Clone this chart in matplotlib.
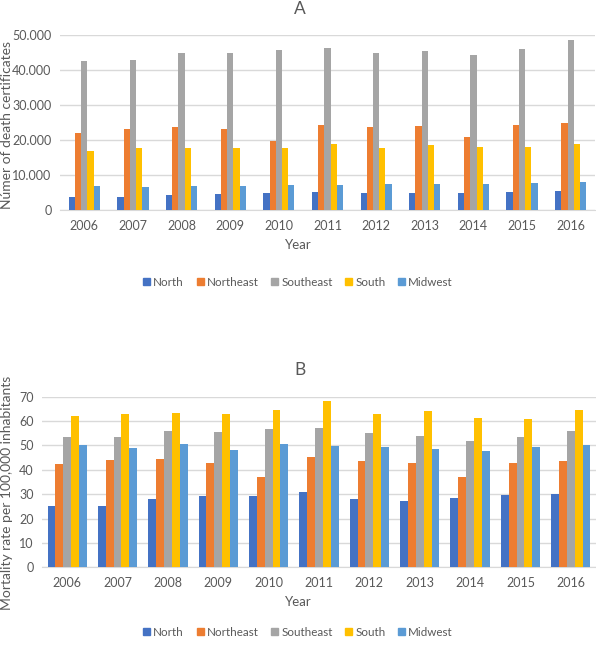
import numpy as np
import matplotlib
matplotlib.use("Agg")
import matplotlib.pyplot as plt
from matplotlib.patches import Patch

years = ["2006", "2007", "2008", "2009", "2010", "2011", "2012", "2013", "2014", "2015", "2016"]
regions = ["North", "Northeast", "Southeast", "South", "Midwest"]
colors = ["#4472C4", "#ED7D31", "#A5A5A5", "#FFC000", "#5B9BD5"]

# Panel A: number of death certificates
a_north = [3800, 3800, 4300, 4600, 4900, 5100, 4800, 4800, 5000, 5200, 5500]
a_northeast = [21900, 23100, 23800, 23100, 19800, 24300, 23700, 24100, 20900, 24200, 25000]
a_southeast = [42700, 43000, 44900, 45000, 45600, 46300, 44900, 45400, 44300, 45900, 48500]
a_south = [17000, 17600, 17600, 17600, 17700, 18900, 17700, 18600, 18000, 18000, 19000]
a_midwest = [6800, 6700, 7000, 6800, 7200, 7100, 7300, 7400, 7400, 7700, 7900]

# Panel B: mortality rate per 100,000 inhabitants
b_north = [25.3, 25.0, 27.9, 29.1, 29.3, 30.9, 27.9, 27.1, 28.3, 29.7, 30.2]
b_northeast = [42.2, 44.2, 44.6, 42.9, 37.1, 45.3, 43.6, 42.9, 37.1, 42.7, 43.8]
b_southeast = [53.6, 53.3, 55.9, 55.5, 56.7, 57.2, 55.0, 53.7, 52.0, 53.5, 56.1]
b_south = [61.9, 62.9, 63.4, 62.8, 64.4, 68.4, 63.0, 64.1, 61.3, 61.0, 64.5]
b_midwest = [50.2, 48.9, 50.7, 48.0, 50.5, 49.8, 49.4, 48.4, 47.9, 49.4, 50.0]

plt.rcParams['font.family'] = ['Lato', 'DejaVu Sans']
W, H = 596, 645
fig = plt.figure(figsize=(W / 100, H / 100), dpi=100)

txt = "#595959"
grid = "#D9D9D9"


def panel(rect, series, group_w, ylim, yticks, yticklabels, ylabel, ylabel_y, title, title_y, year_y, leg_y):
    l, t, r, b = rect
    ax = fig.add_axes([l / W, 1 - b / H, (r - l) / W, (b - t) / H])
    x = np.arange(len(years))
    n = len(series)
    bw = group_w / n
    for i, (vals, c) in enumerate(zip(series, colors)):
        ax.bar(x - group_w / 2 + bw * (i + 0.5), vals, width=bw, color=c, zorder=3, linewidth=0)
    ax.set_xlim(-0.5, len(years) - 0.5)
    ax.set_ylim(*ylim)
    ax.set_yticks(yticks)
    ax.set_yticklabels(yticklabels, color=txt, fontsize=9)
    ax.set_xticks(x)
    ax.set_xticklabels(years, color=txt, fontsize=9)
    ax.tick_params(length=0, pad=7)
    ax.tick_params(axis='y', pad=6)
    ax.yaxis.grid(True, color=grid, linewidth=1, zorder=0)
    for s in ["top", "right", "left"]:
        ax.spines[s].set_visible(False)
    ax.spines["bottom"].set_color(grid)
    ax.set_axisbelow(True)
    fig.text(1 / W, 1 - ylabel_y / H, ylabel, rotation=90, ha="left", va="center",
             color=txt, fontsize=10)
    fig.text(0.5, 1 - year_y / H, "Year", ha="center", va="center", color=txt, fontsize=9.5)
    fig.text(300 / W, 1 - title_y / H, title, ha="center", va="center", color=txt, fontsize=12.5)
    handles = [Patch(color=c, label=rname) for c, rname in zip(colors, regions)]
    fig.legend(handles=handles, loc="center", bbox_to_anchor=(298 / W, 1 - leg_y / H), ncol=5,
               frameon=False, fontsize=8.4, handlelength=0.6, handleheight=0.6,
               handletextpad=0.25, columnspacing=1.1, labelcolor=txt)
    return ax


panel((60, 35, 595, 210), [a_north, a_northeast, a_southeast, a_south, a_midwest], 0.64,
      (0, 50000), [0, 10000, 20000, 30000, 40000, 50000],
      ["0", "10.000", "20.000", "30.000", "40.000", "50.000"],
      "Númer of death certificates", 125, "A", 9, 245, 282)

panel((42, 396.7, 596, 567.3), [b_north, b_northeast, b_southeast, b_south, b_midwest], 0.78,
      (0, 70), list(range(0, 71, 10)), [str(v) for v in range(0, 71, 10)],
      "Mortality rate per 100,000 inhabitants", 493, "B", 370, 602, 632)

fig.savefig("out.png", dpi=100)
